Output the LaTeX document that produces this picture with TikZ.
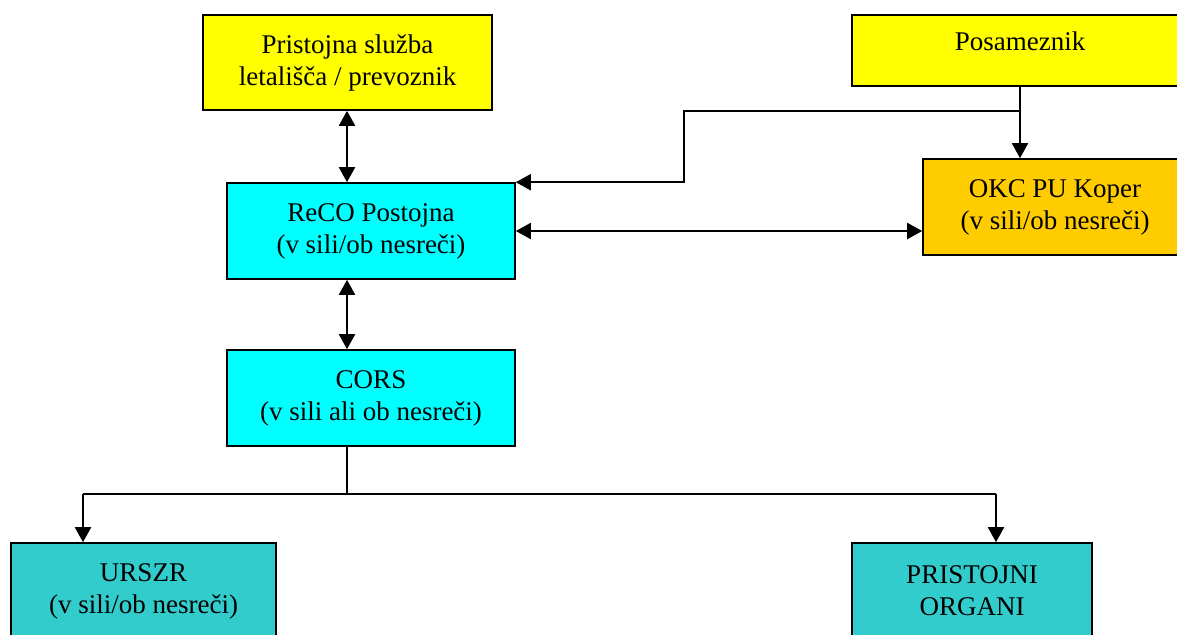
\documentclass[tikz,border=0pt]{standalone}
\usepackage{fontspec}
\setmainfont{Liberation Serif}
\usetikzlibrary{arrows.meta}
\definecolor{boxyellow}{HTML}{FFFF00}
\definecolor{boxcyan}{HTML}{00FFFF}
\definecolor{boxorange}{HTML}{FFCC00}
\definecolor{boxteal}{HTML}{33CCCC}

\begin{document}
\begin{tikzpicture}[x=0.5pt,y=-0.5pt,
  box/.style={draw,line width=0.8pt,align=center,inner sep=0pt,font=\fontsize{13.5}{16}\selectfont},
  link/.style={line width=1pt,-{Stealth[inset=0pt,length=7.5pt,width=8pt]}},
  both/.style={line width=1pt,{Stealth[inset=0pt,length=7.5pt,width=8pt]}-{Stealth[inset=0pt,length=7.5pt,width=8pt]}}]
\useasboundingbox (0,0) rectangle (1177,634);
\clip (0,0) rectangle (1177,634);

\node[box,fill=boxyellow,minimum width=144.5pt,minimum height=47.5pt] (sluzba) at (347.5,62.5) {Pristojna služba\\letališča / prevoznik};
\node[box,fill=boxyellow,minimum width=168pt,minimum height=35.5pt,text depth=9pt] (posam) at (1020,50.5) {Posameznik};
\node[box,fill=boxcyan,minimum width=144pt,minimum height=48pt] (reco) at (371,231) {ReCO Postojna\\(v sili/ob nesreči)};
\node[box,fill=boxorange,minimum width=132pt,minimum height=48pt] (okc) at (1055,207) {OKC PU Koper\\(v sili/ob nesreči)};
\node[box,fill=boxcyan,minimum width=144pt,minimum height=48pt] (cors) at (371,398) {CORS\\(v sili ali ob nesreči)};
\node[box,fill=boxteal,minimum width=132.5pt,minimum height=48pt] (urszr) at (143.5,591) {URSZR\\(v sili/ob nesreči)};
\node[box,fill=boxteal,minimum width=120pt,minimum height=48pt] (organi) at (972,591) {PRISTOJNI\\ORGANI};

\coordinate (axis) at (347,0);
\coordinate (jog) at (684,111);
\coordinate (busL) at (83,494);
\coordinate (busR) at (996,494);

\path[both]
(sluzba.south -| axis) edge (reco.north -| axis)
(reco.south -| axis) edge (cors.north -| axis)
(reco.east) edge (reco.east -| okc.west);
\path[link]
(posam.south) edge (posam.south |- okc.north)
(busL) edge (busL |- urszr.north)
(busR) edge (busR |- organi.north);
\draw[link] (posam.south |- jog) -- (jog) |- (reco.north east);
\draw[line width=0.6pt] (axis |- cors.south) -- (axis |- busL);
\draw[line width=0.9pt] (busL) -- (busR);

\end{tikzpicture}
\end{document}
